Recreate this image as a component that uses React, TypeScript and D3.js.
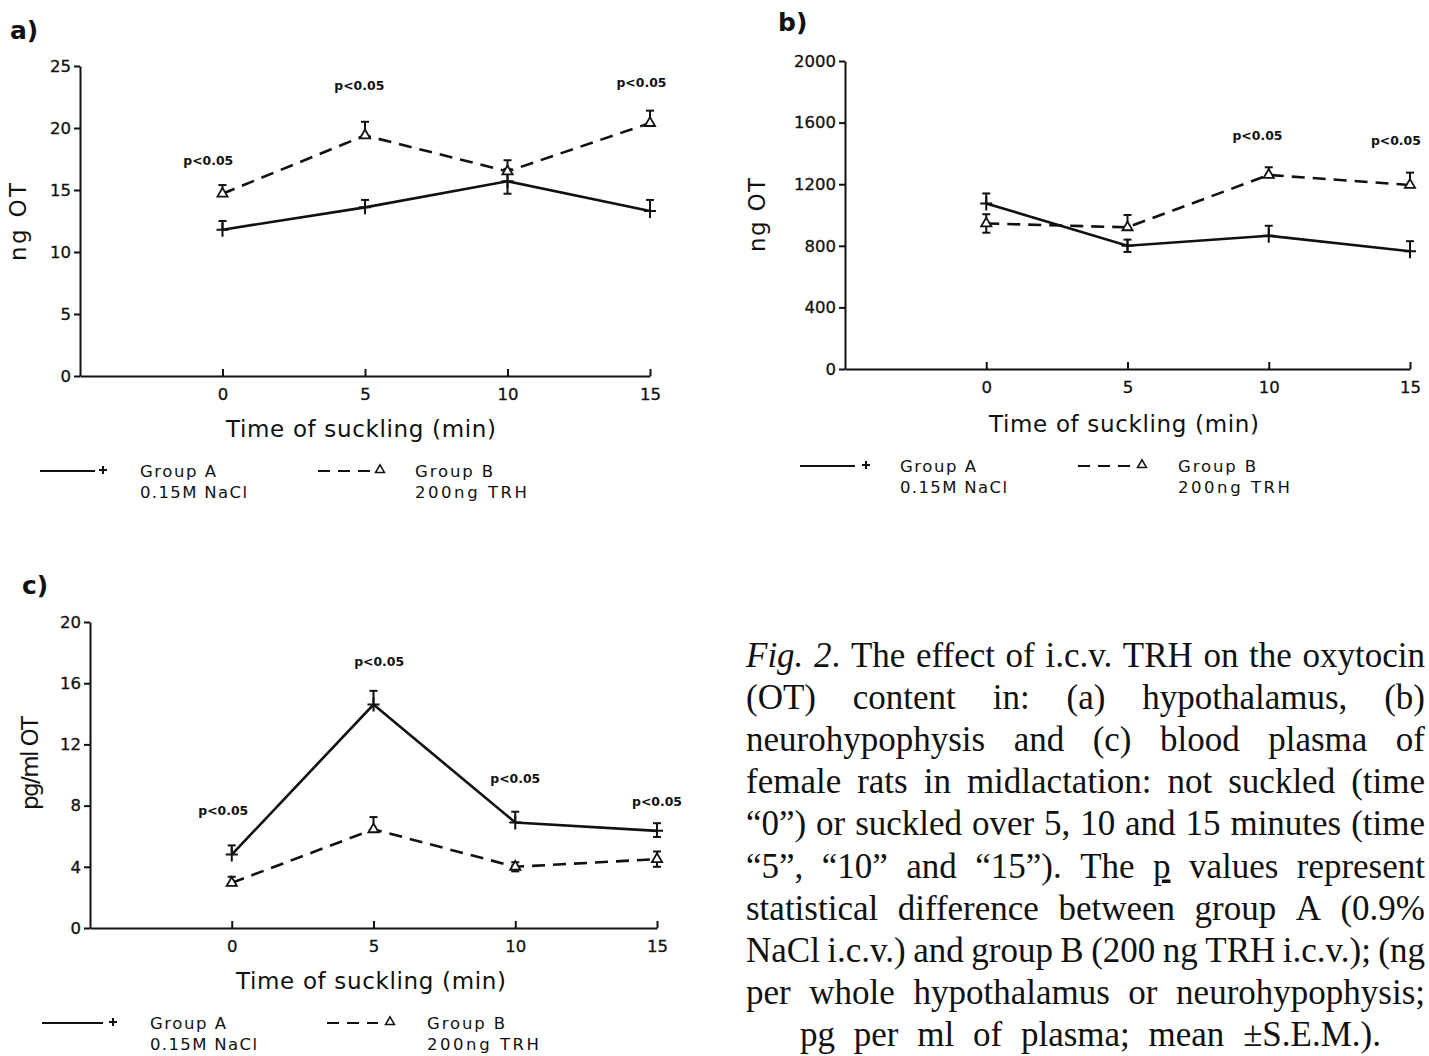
import React, { useEffect, useRef } from "react";
import * as d3 from "d3";

// time points (min)
const times = [0, 5, 10, 15];

// a) hypothalamus, ng OT
const hypoA = [11.8, 13.6, 15.7, 13.3];
const hypoAUp = [0.7, 0.6, 1.0, 0.9];
const hypoADn = [0, 0, 1.0, 0];
const hypoB = [14.7, 19.4, 16.5, 20.4];
const hypoBUp = [0.7, 1.1, 0.9, 1.0];
const hypoBDn = [0, 0, 0, 0];
const hypoTicks = [0, 5, 10, 15, 20, 25];
const hypoPTime = [-0.5, 4.8, 14.7];
const hypoPVal = [17.0, 23.1, 23.3];

// b) neurohypophysis, ng OT
const neuroA = [1075, 800, 865, 765];
const neuroAUp = [65, 40, 65, 65];
const neuroADn = [0, 40, 0, 0];
const neuroB = [945, 920, 1260, 1195];
const neuroBUp = [60, 80, 50, 80];
const neuroBDn = [60, 0, 0, 0];
const neuroTicks = [0, 400, 800, 1200, 1600, 2000];
const neuroPTime = [9.6, 14.5];
const neuroPVal = [1487, 1455];

// c) plasma, pg/ml OT
const plasmaA = [4.8, 14.6, 6.9, 6.35];
const plasmaAUp = [0.6, 0.9, 0.7, 0.5];
const plasmaADn = [0, 0, 0, 0.4];
const plasmaB = [2.95, 6.45, 4.0, 4.5];
const plasmaBUp = [0.4, 0.8, 0.3, 0.5];
const plasmaBDn = [0, 0, 0.3, 0.5];
const plasmaTicks = [0, 4, 8, 12, 16, 20];
const plasmaPTime = [-0.3, 5.2, 10, 15];
const plasmaPVal = [7.4, 17.1, 9.5, 8.0];

const captionLines = [
  "*Fig.* *2*. The effect of i.c.v. TRH on the oxytocin",
  "(OT) content in: (a) hypothalamus, (b)",
  "neurohypophysis and (c) blood plasma of",
  "female rats in midlactation: not suckled (time",
  "\u201c0\u201d) or suckled over 5, 10 and 15 minutes (time",
  "\u201c5\u201d, \u201c10\u201d and \u201c15\u201d). The _p_ values represent",
  "statistical difference between group A (0.9%",
  "NaCl i.c.v.) and group B (200 ng TRH i.c.v.); (ng",
  "per whole hypothalamus or neurohypophysis;",
  "pg per ml of plasma; mean \u00b1S.E.M.).",
];

const SANS = "'DejaVu Sans', Verdana, sans-serif";
const SERIF = "'Liberation Serif', 'Times New Roman', serif";
const INK = "#111";

const panels = [
  {
    tag: "a)", tagX: 10, tagY: 39,
    left: 80, right: 650, top: 66, bottom: 376,
    yMax: 25, yTicks: hypoTicks, yLabel: "ng OT", yLabelX: 18, yLabelY: 222, yLabelLen: 78,
    titleX: 361, titleY: 437,
    A: hypoA, AUp: hypoAUp, ADn: hypoADn, B: hypoB, BUp: hypoBUp, BDn: hypoBDn,
    pT: hypoPTime, pV: hypoPVal,
    legY: 471, leg: [40, 95, 103, 140, 318, 370, 380, 415],
  },
  {
    tag: "b)", tagX: 778, tagY: 31,
    left: 845, right: 1410, top: 61, bottom: 369,
    yMax: 2000, yTicks: neuroTicks, yLabel: "ng OT", yLabelX: 757, yLabelY: 215, yLabelLen: 74,
    titleX: 1124, titleY: 432,
    A: neuroA, AUp: neuroAUp, ADn: neuroADn, B: neuroB, BUp: neuroBUp, BDn: neuroBDn,
    pT: neuroPTime, pV: neuroPVal,
    legY: 466, leg: [800, 855, 866, 900, 1078, 1130, 1142, 1178],
  },
  {
    tag: "c)", tagX: 22, tagY: 594,
    left: 90, right: 657, top: 622, bottom: 928,
    yMax: 20, yTicks: plasmaTicks, yLabel: "pg/ml OT", yLabelX: 30, yLabelY: 763, yLabelLen: 94,
    titleX: 371, titleY: 989,
    A: plasmaA, AUp: plasmaAUp, ADn: plasmaADn, B: plasmaB, BUp: plasmaBUp, BDn: plasmaBDn,
    pT: plasmaPTime, pV: plasmaPVal,
    legY: 1023, leg: [42, 103, 113, 150, 327, 378, 390, 427],
  },
];

type PanelSpec = (typeof panels)[number];

function drawPanel(svg: d3.Selection<SVGSVGElement, unknown, null, undefined>, p: PanelSpec) {
  const x = d3.scaleLinear().domain([-5, 15]).range([p.left, p.right]);
  const y = d3.scaleLinear().domain([0, p.yMax]).range([p.bottom, p.top]);
  const g = svg.append("g").attr("font-family", SANS).attr("fill", INK);

  g.append("text")
    .attr("x", p.tagX)
    .attr("y", p.tagY)
    .attr("font-size", 25)
    .attr("font-weight", "bold")
    .text(p.tag);

  const yAxis = g
    .append("g")
    .attr("transform", `translate(${p.left},0)`)
    .call(
      d3.axisLeft(y).tickValues(p.yTicks).tickFormat(d3.format("d"))
        .tickSizeInner(6).tickSizeOuter(0).tickPadding(3)
    );
  yAxis.attr("font-size", null).attr("font-family", null);
  yAxis.select(".domain").attr("stroke", INK).attr("stroke-width", 2);
  yAxis.selectAll(".tick line").attr("stroke", INK).attr("stroke-width", 2);
  yAxis.selectAll(".tick text").attr("font-size", 16.5).attr("fill", INK)
    .attr("stroke", INK).attr("stroke-width", 0.3);

  const xAxis = g
    .append("g")
    .attr("transform", `translate(0,${p.bottom})`)
    .call(d3.axisBottom(x).tickValues(times).tickSizeInner(-7).tickSizeOuter(0).tickPadding(12));
  xAxis.attr("font-size", null).attr("font-family", null);
  xAxis.select(".domain").attr("stroke", INK).attr("stroke-width", 2);
  xAxis.selectAll(".tick line").attr("stroke", INK).attr("stroke-width", 2);
  xAxis.selectAll(".tick text").attr("font-size", 16.5).attr("fill", INK)
    .attr("stroke", INK).attr("stroke-width", 0.3);

  g.append("text")
    .attr("x", p.titleX)
    .attr("y", p.titleY)
    .attr("text-anchor", "middle")
    .attr("font-size", 23)
    .attr("textLength", 270)
    .attr("lengthAdjust", "spacing")
    .text("Time of suckling (min)");

  g.append("text")
    .attr("transform", `translate(${p.yLabelX},${p.yLabelY}) rotate(-90)`)
    .attr("text-anchor", "middle")
    .attr("dy", "0.35em")
    .attr("font-size", 23)
    .attr("textLength", p.yLabelLen)
    .attr("lengthAdjust", "spacing")
    .text(p.yLabel);

  const line = d3
    .line<number>()
    .x((d, i) => x(times[i]))
    .y((d) => y(d));

  const series = [
    { v: p.A, up: p.AUp, dn: p.ADn, dash: null, mark: "plus" },
    { v: p.B, up: p.BUp, dn: p.BDn, dash: "13,8", mark: "tri" },
  ];

  series.forEach((s) => {
    // error bars
    s.v.forEach((v, i) => {
      const cx = x(times[i]);
      const y1 = y(v + s.up[i]);
      const y0 = y(v - s.dn[i]);
      g.append("line")
        .attr("x1", cx).attr("x2", cx).attr("y1", y0).attr("y2", y1)
        .attr("stroke", INK).attr("stroke-width", 2);
      if (s.up[i] > 0)
        g.append("line")
          .attr("x1", cx - 4).attr("x2", cx + 4).attr("y1", y1).attr("y2", y1)
          .attr("stroke", INK).attr("stroke-width", 2);
      if (s.dn[i] > 0)
        g.append("line")
          .attr("x1", cx - 4).attr("x2", cx + 4).attr("y1", y0).attr("y2", y0)
          .attr("stroke", INK).attr("stroke-width", 2);
    });

    g.append("path")
      .datum(s.v)
      .attr("fill", "none")
      .attr("stroke", INK)
      .attr("stroke-width", 2.6)
      .attr("stroke-dasharray", s.dash)
      .attr("d", line);

    s.v.forEach((v, i) => {
      const m = g.append("path").attr("transform", `translate(${x(times[i])},${y(v)})`);
      if (s.mark === "plus") {
        m.attr("d", "M-6,0H6M0,-7V7").attr("stroke", INK).attr("stroke-width", 2).attr("fill", "none");
      } else {
        m.attr("d", d3.symbol(d3.symbolTriangle, 45)())
          .attr("fill", "white")
          .attr("stroke", INK)
          .attr("stroke-width", 1.8);
      }
    });
  });

  p.pT.forEach((t, i) => {
    g.append("text")
      .attr("x", x(t))
      .attr("y", y(p.pV[i]))
      .attr("text-anchor", "middle")
      .attr("font-size", 13)
      .attr("font-weight", "bold")
      .attr("textLength", 50)
      .attr("lengthAdjust", "spacingAndGlyphs")
      .text("p<0.05");
  });

  // legend
  const [l0, l1, plusX, taX, d0, d1, triX, tbX] = p.leg;
  const ly = p.legY;
  g.append("line").attr("x1", l0).attr("x2", l1).attr("y1", ly).attr("y2", ly)
    .attr("stroke", INK).attr("stroke-width", 2);
  g.append("path").attr("transform", `translate(${plusX},${ly - 1})`)
    .attr("d", "M-4,0H4M0,-4V4").attr("stroke", INK).attr("stroke-width", 2);
  g.append("line").attr("x1", d0).attr("x2", d1).attr("y1", ly).attr("y2", ly)
    .attr("stroke", INK).attr("stroke-width", 2).attr("stroke-dasharray", "12,8");
  g.append("path").attr("transform", `translate(${triX},${ly - 1})`)
    .attr("d", d3.symbol(d3.symbolTriangle, 35)())
    .attr("fill", "none").attr("stroke", INK).attr("stroke-width", 1.5);

  const legText = (tx: number, ty: number, s: string, len: number) =>
    g.append("text")
      .attr("x", tx)
      .attr("y", ty)
      .attr("font-size", 16.5)
      .attr("textLength", len)
      .attr("lengthAdjust", "spacing")
      .text(s);
  legText(taX, ly + 6, "Group A", 76);
  legText(taX, ly + 27, "0.15M NaCl", 107);
  legText(tbX, ly + 6, "Group B", 78);
  legText(tbX, ly + 27, "200ng TRH", 112);
}

function drawCaption(svg: d3.Selection<SVGSVGElement, unknown, null, undefined>) {
  const capLeft = 746;
  const capRight = 1425;
  const cap = svg.append("g").attr("font-family", SERIF).attr("font-size", 35).attr("fill", INK);
  captionLines.forEach((ln, i) => {
    const yy = 667 + i * 42.1;
    const last = i === captionLines.length - 1;
    const words = ln.split(" ").map((w) => {
      const t = cap.append("text").attr("y", yy);
      // *x* = italic, _x_ = underlined
      w.split(/(\*[^*]+\*|_[^_]+_)/).filter((s) => s).forEach((part) => {
        const ts = t.append("tspan");
        if (part.startsWith("*")) ts.attr("font-style", "italic").text(part.slice(1, -1));
        else if (part.startsWith("_")) ts.attr("text-decoration", "underline").text(part.slice(1, -1));
        else ts.text(part);
      });
      return { t, w: (t.node() as SVGTextElement).getComputedTextLength() };
    });
    const total = d3.sum(words, (d) => d.w);
    const left = last ? 800 : capLeft;
    const right = last ? 1381 : capRight;
    const gap = (right - left - total) / (words.length - 1);
    let cx = left;
    words.forEach((d) => {
      d.t.attr("x", cx);
      cx += d.w + gap;
    });
  });
}

const App = () => {
  const svgRef = useRef<SVGSVGElement>(null);

  useEffect(() => {
    const svg = d3.select(svgRef.current as SVGSVGElement);
    svg.selectAll("*").remove();
    panels.forEach((p) => drawPanel(svg, p));
    drawCaption(svg);
  }, []);

  return (
    <div style={{ position: "absolute", left: 0, top: 0 }}>
      <svg ref={svgRef} width={1429} height={1056} style={{ display: "block", background: "white" }} />
    </div>
  );
};

export default App;
